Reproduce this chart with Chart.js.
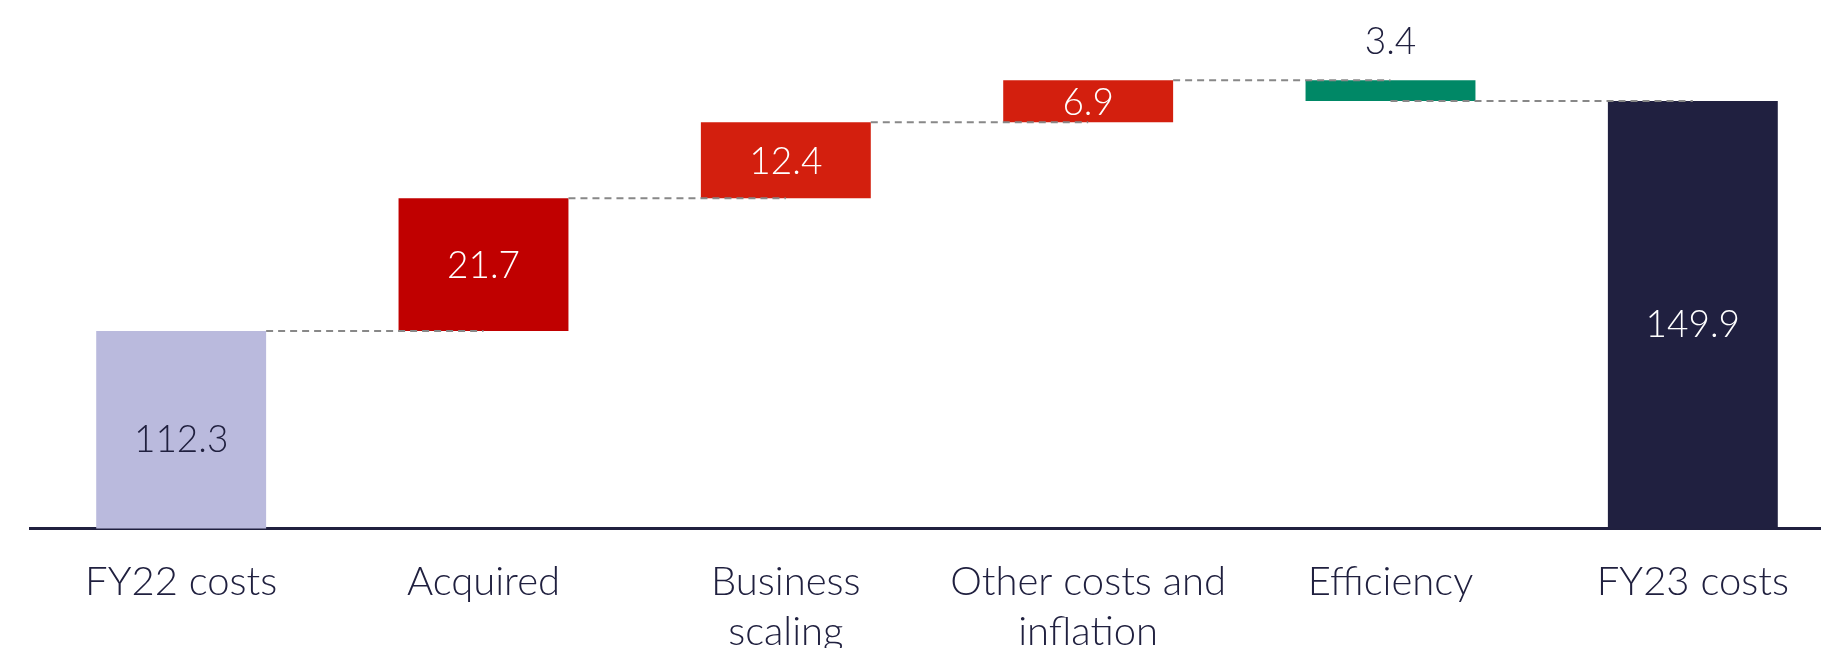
<!DOCTYPE html>
<html>
<head>
<meta charset="utf-8">
<script src="https://cdn.jsdelivr.net/npm/chart.js@4"></script>
<style>
  html, body { margin: 0; padding: 0; background: #fff; overflow: hidden; }
  .chart-container { position: relative; width: 1844px; height: 648px; }
</style>
</head>
<body>
<div class="chart-container"><canvas id="myChart"></canvas></div>
<script>
// Waterfall data
const categories = ["FY22 costs", "Acquired", ["Business", "scaling"], ["Other costs and", "inflation"], "Efficiency", "FY23 costs"];
const changes = [112.3, 21.7, 12.4, 6.9, -3.4, 149.9];
const isTotal = [true, false, false, false, false, true];
const barColors = ["#babadd", "#c00000", "#d31f0e", "#d31f0e", "#008866", "#202040"];
const labelColors = ["#20203f", "#ffffff", "#ffffff", "#ffffff", "#20203f", "#ffffff"];
const yMin = 80;
const yMax = 166.4;

const textColor = "#20203f";
const fontFamily = "Lato, 'Open Sans', sans-serif";

// build floating ranges [start, end] from the running total
let running = 0;
const ranges = [];
const levels = [];
changes.forEach((v, i) => {
  if (isTotal[i]) {
    ranges.push([0, v]);
    running = v;
  } else {
    ranges.push([running, running + v]);
    running += v;
  }
  levels.push(running);
});

// dashed connectors between bars
const connectors = {
  id: "connectors",
  afterDatasetsDraw(chart) {
    const ctx = chart.ctx;
    const bars = chart.getDatasetMeta(0).data;
    const yScale = chart.scales.y;
    ctx.save();
    ctx.strokeStyle = "#888888";
    ctx.lineWidth = 2;
    ctx.setLineDash([7, 5]);
    for (let i = 0; i < bars.length - 1; i++) {
      const y = yScale.getPixelForValue(levels[i]);
      const startX = changes[i] < 0 ? bars[i].x : bars[i].x + bars[i].width / 2;
      ctx.beginPath();
      ctx.moveTo(startX, y);
      ctx.lineTo(bars[i + 1].x, y);
      ctx.stroke();
    }
    ctx.restore();
  },
};

// value labels inside (or above) the bars
const valueLabels = {
  id: "valueLabels",
  afterDatasetsDraw(chart) {
    const ctx = chart.ctx;
    const area = chart.chartArea;
    const bars = chart.getDatasetMeta(0).data;
    ctx.save();
    ctx.font = "300 37px " + fontFamily;
    ctx.textAlign = "center";
    ctx.textBaseline = "middle";
    bars.forEach((bar, i) => {
      const top = Math.min(bar.y, bar.base);
      const bottom = Math.min(Math.max(bar.y, bar.base), area.bottom);
      let y = (top + bottom) / 2 + 2;
      if (isTotal[i]) y += 8; // totals sit a little lower in the original
      if (changes[i] < 0) y = top - 38;
      ctx.fillStyle = labelColors[i];
      ctx.fillText(Math.abs(changes[i]).toFixed(1), bar.x, y);
    });
    ctx.restore();
  },
};

const ctx = document.getElementById("myChart").getContext("2d");

new Chart(ctx, {
  type: "bar",
  data: {
    labels: categories,
    datasets: [
      {
        data: ranges,
        backgroundColor: barColors,
        borderWidth: 0,
        barPercentage: 0.562,
        categoryPercentage: 1,
      },
    ],
  },
  options: {
    responsive: true,
    maintainAspectRatio: false,
    animation: false,
    layout: { padding: { left: 30, right: 0, top: 0, bottom: 0 } },
    plugins: {
      legend: { display: false },
      tooltip: { enabled: false },
    },
    scales: {
      x: {
        grid: { display: false },
        border: { display: true, color: "#20203f", width: 3 },
        ticks: {
          color: textColor,
          font: { family: fontFamily, size: 40, weight: 300, lineHeight: 1.25 },
          padding: 21,
          maxRotation: 0,
          autoSkip: false,
        },
        afterFit(scale) {
          scale.height = 119.5;
        },
      },
      y: {
        display: false,
        min: yMin,
        max: yMax,
      },
    },
  },
  plugins: [connectors, valueLabels],
});
</script>
</body>
</html>
